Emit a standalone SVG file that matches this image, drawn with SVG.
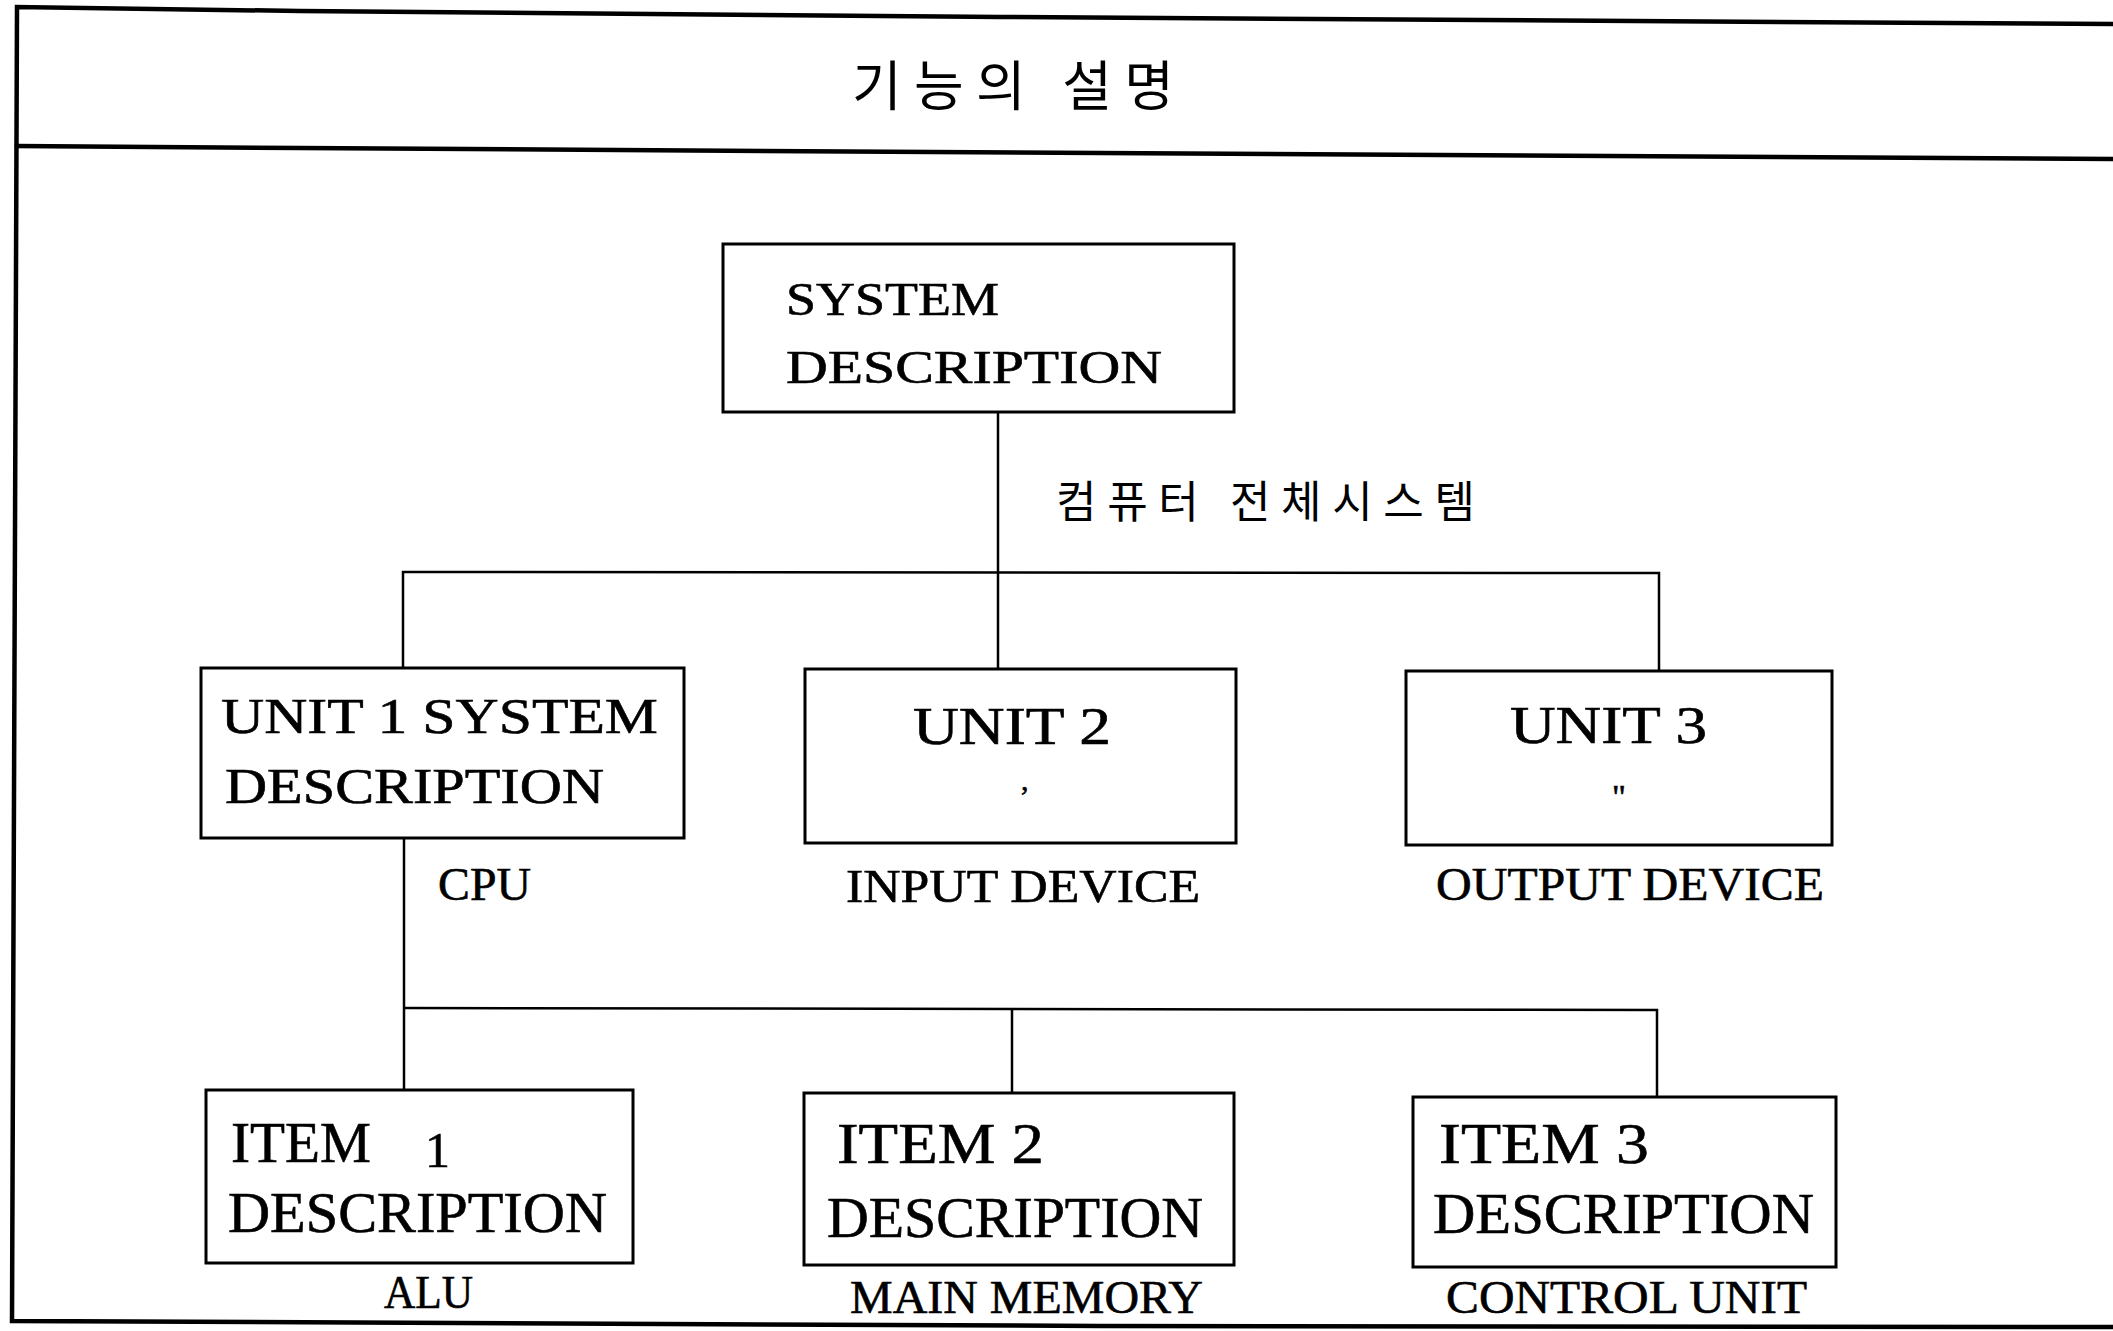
<svg xmlns="http://www.w3.org/2000/svg" width="2113" height="1331" viewBox="0 0 2113 1331">
<style>
.frame{fill:none;stroke:#000;stroke-width:4.5;stroke-linecap:square;stroke-linejoin:miter}
.box{fill:#fff;stroke:#000;stroke-width:3}
.conn{fill:none;stroke:#000;stroke-width:2.5}
.t{font-family:"Liberation Serif","Times New Roman",serif;fill:#000;stroke:#000;stroke-width:0.6}
.ko{font-family:"Noto Sans CJK KR","Noto Sans CJK SC",sans-serif;fill:#000}
</style>
<rect x="0" y="0" width="2113" height="1331" fill="#fff"/>
<g id="frame">
<polyline class="frame" points="2113,24 1000,17 300,11 17,7 12,1321 1100,1326 2113,1327"/>
<polyline class="frame" points="17,146 300,148 1100,153 2113,159"/>
<text class="ko" x="852" y="106" font-size="54" textLength="322" lengthAdjust="spacing">기능의 설명</text>
</g>
<g id="connectors">
<line class="conn" x1="998" y1="412" x2="998" y2="668"/>
<polyline class="conn" points="403,667 403,572 1659,573 1659,672"/>
<line class="conn" x1="404" y1="838" x2="404" y2="1090"/>
<polyline class="conn" points="404,1008 1657,1010 1657,1097"/>
<line class="conn" x1="1012" y1="1008" x2="1012" y2="1093"/>
<text class="ko" x="1056" y="518" font-size="44" textLength="419" lengthAdjust="spacing">컴퓨터 전체시스템</text>
</g>
<g id="system">
<rect class="box" x="723" y="244" width="511" height="168"/>
<text class="t" x="786" y="315" font-size="46" textLength="213" lengthAdjust="spacingAndGlyphs">SYSTEM</text>
<text class="t" x="786" y="383" font-size="46" textLength="376" lengthAdjust="spacingAndGlyphs">DESCRIPTION</text>
</g>
<g id="unit1">
<rect class="box" x="201" y="668" width="483" height="170"/>
<text class="t" x="221" y="733" font-size="50" textLength="437" lengthAdjust="spacingAndGlyphs">UNIT 1 SYSTEM</text>
<text class="t" x="225" y="803" font-size="50" textLength="379" lengthAdjust="spacingAndGlyphs">DESCRIPTION</text>
<text class="t" x="438" y="900" font-size="46" textLength="93" lengthAdjust="spacingAndGlyphs">CPU</text>
</g>
<g id="unit2">
<rect class="box" x="805" y="669" width="431" height="174"/>
<text class="t" x="913" y="744" font-size="52" textLength="198" lengthAdjust="spacingAndGlyphs">UNIT 2</text>
<text class="t" x="1021" y="790" font-size="30" stroke-width="1.5">,</text>
<text class="t" x="846" y="902" font-size="46" textLength="354" lengthAdjust="spacingAndGlyphs">INPUT DEVICE</text>
</g>
<g id="unit3">
<rect class="box" x="1406" y="671" width="426" height="174"/>
<text class="t" x="1510" y="743" font-size="52" textLength="197" lengthAdjust="spacingAndGlyphs">UNIT 3</text>
<text class="t" x="1612" y="808" font-size="34">"</text>
<text class="t" x="1436" y="900" font-size="46" textLength="388" lengthAdjust="spacingAndGlyphs">OUTPUT DEVICE</text>
</g>
<g id="item1">
<rect class="box" x="206" y="1090" width="427" height="173"/>
<text class="t" x="231" y="1162" font-size="56" textLength="140" lengthAdjust="spacingAndGlyphs">ITEM</text>
<text class="t" x="425" y="1167" font-size="50">1</text>
<text class="t" x="228" y="1232" font-size="56" textLength="379" lengthAdjust="spacingAndGlyphs">DESCRIPTION</text>
<text class="t" x="384" y="1308" font-size="46" textLength="89" lengthAdjust="spacingAndGlyphs">ALU</text>
</g>
<g id="item2">
<rect class="box" x="804" y="1093" width="430" height="172"/>
<text class="t" x="837" y="1163" font-size="56" textLength="207" lengthAdjust="spacingAndGlyphs">ITEM 2</text>
<text class="t" x="827" y="1237" font-size="56" textLength="376" lengthAdjust="spacingAndGlyphs">DESCRIPTION</text>
<text class="t" x="850" y="1313" font-size="46" textLength="353" lengthAdjust="spacingAndGlyphs">MAIN MEMORY</text>
</g>
<g id="item3">
<rect class="box" x="1413" y="1097" width="423" height="170"/>
<text class="t" x="1439" y="1163" font-size="56" textLength="210" lengthAdjust="spacingAndGlyphs">ITEM 3</text>
<text class="t" x="1433" y="1233" font-size="56" textLength="381" lengthAdjust="spacingAndGlyphs">DESCRIPTION</text>
<text class="t" x="1446" y="1313" font-size="46" textLength="361" lengthAdjust="spacingAndGlyphs">CONTROL UNIT</text>
</g>
</svg>
